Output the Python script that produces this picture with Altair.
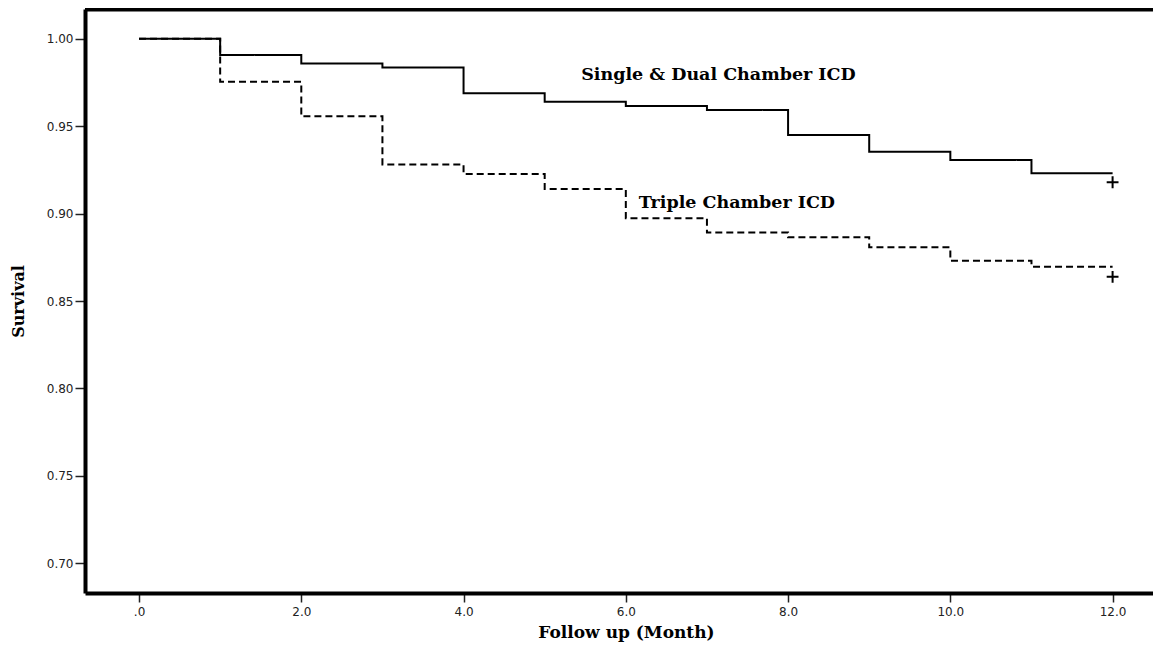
import altair as alt
import pandas as pd

# ---- data ----
months = [0, 1, 2, 3, 4, 5, 6, 7, 8, 9, 10, 11, 12]
single_dual = [1.0, 0.9907, 0.9859, 0.9836, 0.9688, 0.9640, 0.9615, 0.9592,
               0.9449, 0.9354, 0.9306, 0.9230, 0.9230]
triple = [1.0, 0.9754, 0.9556, 0.9281, 0.9226, 0.9140, 0.8973, 0.8892,
          0.8864, 0.8807, 0.8730, 0.8696, 0.8696]

censor_month = [12, 12]
censor_surv = [0.9179, 0.8638]

label_text = ["Single & Dual Chamber ICD", "Triple Chamber ICD"]
label_month = [5.45, 6.16]
label_surv = [0.9792, 0.9058]

x_ticks = [0, 2, 4, 6, 8, 10, 12]
y_ticks = [0.70, 0.75, 0.80, 0.85, 0.90, 0.95, 1.00]

x_domain = [-0.666, 12.498]
y_domain = [0.683, 1.017]

W, H = 1068, 584

lines_df = pd.DataFrame({
    "month": months * 2,
    "survival": single_dual + triple,
    "group": ["Single & Dual Chamber ICD"] * len(months) + ["Triple Chamber ICD"] * len(months),
})
censor_df = pd.DataFrame({"month": censor_month, "survival": censor_surv})
label_df = pd.DataFrame({"text": label_text, "month": label_month, "survival": label_surv})

xscale = alt.Scale(domain=x_domain, nice=False, zero=False)
yscale = alt.Scale(domain=y_domain, nice=False, zero=False)

x_axis = alt.Axis(
    values=x_ticks,
    labelExpr="datum.value == 0 ? '.0' : format(datum.value, '.1f')",
    grid=False,
    domainColor="black", domainWidth=4,
    tickColor="#222", tickWidth=1.5, tickSize=9,
    labelFont="DejaVu Sans", labelFontSize=12, labelColor="#222", labelPadding=4,
    title="Follow up (Month)",
    titleFont="DejaVu Serif", titleFontSize=17, titleFontWeight="bold", titleColor="black",
    titleAnchor="start", titleAlign="center", titleBaseline="alphabetic",
    titleX=541, titleY=44.5,
)
y_axis = alt.Axis(
    values=y_ticks, format=".2f",
    grid=False,
    domainColor="black", domainWidth=4,
    tickColor="#222", tickWidth=1.5, tickSize=10,
    labelFont="DejaVu Sans", labelFontSize=12, labelColor="#222", labelPadding=2,
    title="Survival",
    titleFont="DejaVu Serif", titleFontSize=16, titleFontWeight="bold", titleColor="black",
    titleAngle=270, titleAlign="center", titleBaseline="middle",
    titleX=-67, titleY=292,
)

lines = alt.Chart(lines_df).mark_line(interpolate="step-after", color="black", strokeWidth=2).encode(
    x=alt.X("month:Q", scale=xscale, axis=x_axis),
    y=alt.Y("survival:Q", scale=yscale, axis=y_axis),
    strokeDash=alt.StrokeDash(
        "group:N",
        scale=alt.Scale(domain=["Single & Dual Chamber ICD", "Triple Chamber ICD"],
                        range=[[1, 0], [7, 4]]),
        legend=None,
    ),
)

censor = alt.Chart(censor_df).mark_point(
    shape="M -1 0 L 1 0 M 0 -1 L 0 1", filled=False, color="black",
    strokeWidth=2, size=140, opacity=1,
).encode(
    x=alt.X("month:Q", scale=xscale),
    y=alt.Y("survival:Q", scale=yscale),
)

labels = alt.Chart(label_df).mark_text(
    font="DejaVu Serif", fontSize=17.5, fontWeight="bold", color="black",
    align="left", baseline="middle",
).encode(
    x=alt.X("month:Q", scale=xscale),
    y=alt.Y("survival:Q", scale=yscale),
    text="text:N",
)

top_frame = alt.Chart(pd.DataFrame({"k": [0]})).mark_rule(color="black", strokeWidth=5).encode(
    x=alt.value(0), x2=alt.value(W), y=alt.value(0),
)

chart = alt.layer(lines, censor, labels, top_frame).properties(
    width=W, height=H,
    autosize=alt.AutoSizeParams(type="none"),
    padding={"left": 77, "top": 1, "right": 0, "bottom": 49},
).configure_view(strokeWidth=0)

chart.save("out.html", embed_options={"renderer": "svg", "actions": False})
